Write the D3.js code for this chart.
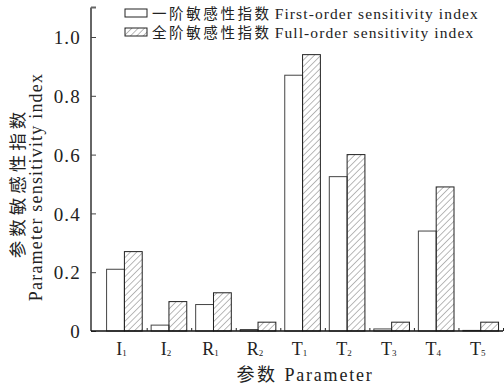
<!DOCTYPE html>
<html>
<head>
<meta charset="utf-8">
<script src="https://cdn.jsdelivr.net/npm/d3@7"></script>
<style>
  body { margin: 0; background: #fff; }
  svg { display: block; }
  text { font-family: "Liberation Serif", "Noto Sans CJK SC", serif; fill: #222; }
</style>
</head>
<body>
<div id="chart"></div>
<script>
const params = [['I','1'],['I','2'],['R','1'],['R','2'],['T','1'],['T','2'],['T','3'],['T','4'],['T','5']];
const firstOrder = [0.21, 0.02, 0.09, 0.005, 0.87, 0.525, 0.007, 0.34, 0.002];
const fullOrder = [0.27, 0.10, 0.13, 0.03, 0.94, 0.60, 0.03, 0.49, 0.03];
const yTicks = [0, 0.2, 0.4, 0.6, 0.8, 1.0];
const legendCn = ['一阶敏感性指数', '全阶敏感性指数'];
const legendEn = ['First-order sensitivity index', 'Full-order sensitivity index'];

const W = 504, H = 390;
const svg = d3.select("#chart").append("svg")
    .attr("width", W).attr("height", H);

// hatch pattern for full-order bars
const defs = svg.append("defs");
defs.append("pattern")
    .attr("id", "hatch")
    .attr("patternUnits", "userSpaceOnUse")
    .attr("width", 4.5).attr("height", 4.5)
    .attr("patternTransform", "rotate(45)")
  .append("line")
    .attr("x1", 0).attr("y1", 0).attr("x2", 0).attr("y2", 4.5)
    .attr("stroke", "#666").attr("stroke-width", 0.9);

const x = d3.scaleLinear().domain([0.25, 9.5]).range([91, 503]);
const y = d3.scaleLinear().domain([0, 1.1]).range([331, 7.6]);
const half = 0.4;

// bars
const g = svg.append("g");
g.selectAll("rect.first").data(firstOrder).join("rect")
    .attr("class", "first")
    .attr("x", (d, i) => x(i + 1 - half))
    .attr("y", d => y(d))
    .attr("width", x(1) - x(1 - half))
    .attr("height", d => y(0) - y(d))
    .attr("fill", "#fff").attr("stroke", "#444").attr("stroke-width", 1);

g.selectAll("rect.full").data(fullOrder).join("rect")
    .attr("class", "full")
    .attr("x", (d, i) => x(i + 1))
    .attr("y", d => y(d))
    .attr("width", x(1 + half) - x(1))
    .attr("height", d => y(0) - y(d))
    .attr("fill", "url(#hatch)").attr("stroke", "#222").attr("stroke-width", 1);

// y axis
const yAxis = svg.append("g")
    .attr("transform", `translate(${x(0.25)},0)`)
    .call(d3.axisRight(y).tickValues(yTicks).tickSize(5).tickFormat(d => d === 0 ? "0" : d3.format(".1f")(d)));
yAxis.attr("font-family", null).attr("font-size", null);
yAxis.select(".domain").attr("stroke", "#666").attr("stroke-width", 2)
    .attr("d", `M0,${y(1.1)}H5M0,${y(1.1)}V${y(0)}`);
yAxis.selectAll(".tick line").attr("stroke", "#444");
yAxis.selectAll(".tick text")
    .attr("x", -10).attr("dy", "0.35em").attr("text-anchor", "end")
    .style("font-size", "19px").style("letter-spacing", "1.2px").attr("fill", "#222");

// x axis
const xAxis = svg.append("g")
    .attr("transform", `translate(0,${y(0)})`)
    .call(d3.axisTop(x).tickValues(d3.range(1.5, 10, 1)).tickSize(3).tickFormat(""));
xAxis.select(".domain").attr("stroke", "#111").attr("stroke-width", 1.6)
    .attr("d", `M${x(0.25)},0H${x(9.5)}`);
xAxis.selectAll(".tick line").attr("stroke", "#222");

// category labels
const lab = svg.append("g").selectAll("text").data(params).join("text")
    .attr("x", (d, i) => x(i + 1) - 3)
    .attr("y", 355)
    .attr("text-anchor", "middle")
    .style("font-size", "18px");
lab.append("tspan").text(d => d[0]);
lab.append("tspan").attr("dy", 1).style("font-size", "9px").text(d => d[1]);

// axis titles
const xt = svg.append("text")
    .attr("x", 305).attr("y", 381)
    .attr("text-anchor", "middle")
    .style("font-size", "18px");
xt.append("tspan").style("letter-spacing", "2.5px").text("参数 ");
xt.append("tspan").style("letter-spacing", "1.8px").text("Parameter");

svg.append("text")
    .attr("transform", "translate(24,183) rotate(-90)")
    .attr("text-anchor", "middle")
    .style("font-size", "17.5px").style("letter-spacing", "4px")
    .text("参数敏感性指数");
svg.append("text")
    .attr("transform", "translate(42,187) rotate(-90)")
    .attr("text-anchor", "middle")
    .style("font-size", "18px").style("letter-spacing", "1.2px")
    .text("Parameter sensitivity index");

// legend
const leg = svg.append("g").selectAll("g").data(legendCn).join("g")
    .attr("transform", (d, i) => `translate(125,${9 + i * 19})`);
leg.append("rect")
    .attr("width", 22).attr("height", 8)
    .attr("fill", (d, i) => i === 0 ? "#fff" : "url(#hatch)")
    .attr("stroke", "#222").attr("stroke-width", 1);
const lt = leg.append("text")
    .attr("x", 27).attr("y", 9.5);
lt.append("tspan").style("font-size", "14.5px").style("letter-spacing", "2.6px").text(d => d);
lt.append("tspan").attr("dx", 3).style("font-size", "15.5px").style("letter-spacing", "1.1px").text((d, i) => legendEn[i]);
</script>
</body>
</html>
